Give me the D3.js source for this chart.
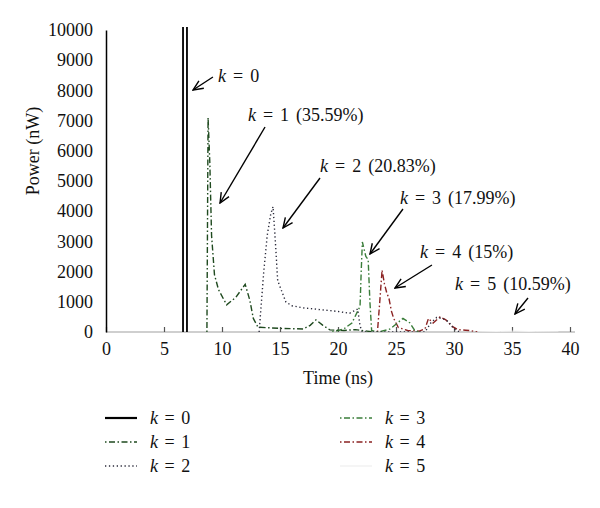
<!DOCTYPE html>
<html>
<head>
    <meta charset="utf-8">
    <title>Power vs time</title>
    <script src="https://cdn.jsdelivr.net/npm/d3@7"></script>
    <style>
        body { margin: 0; background: #fff; }
        text { font-family: "Liberation Serif", "DejaVu Serif", serif; fill: #111; }
    </style>
</head>
<body>
<script>
    // series: [time (ns), power (nW)]
    const k0 = [[6.64, 0], [6.64, 12000], [6.98, 12000], [6.98, 0]];
    const k1 = [[8.7, 0], [8.8, 7100], [8.95, 5600], [9.1, 3200], [9.35, 1900], [9.7, 1400], [10.4, 900],
        [11.2, 1150], [12.0, 1580], [12.4, 1050], [12.7, 450], [13.1, 160], [15, 120], [17, 100],
        [17.6, 220], [18.1, 400], [18.7, 220], [19.3, 70], [20.5, 50], [21.5, 80], [22.5, 30], [23, 0]];
    const k2 = [[13.2, 0], [13.3, 500], [13.6, 2000], [13.9, 3200], [14.2, 3900], [14.4, 4150], [14.6, 3000],
        [14.8, 1700], [15.2, 1300], [15.5, 1000], [16, 870], [17, 800], [18, 760], [19, 720], [20, 680],
        [21, 620], [21.7, 760], [21.9, 200], [22.1, 0], [27.5, 0], [28, 300], [28.5, 480], [29, 450],
        [29.5, 350], [30, 100], [30.5, 0]];
    const k3 = [[19.5, 0], [20.5, 100], [21.2, 300], [21.9, 850], [22.0, 2000], [22.1, 2980], [22.4, 2500],
        [22.6, 2400], [22.75, 1000], [22.9, 50], [23.5, 0], [24.5, 100], [25.6, 450], [26.2, 300],
        [26.6, 60], [27, 0]];
    const k4 = [[23.4, 0], [23.6, 1000], [23.8, 2050], [24.0, 1600], [24.2, 1300], [24.4, 1100], [24.6, 700],
        [24.8, 450], [25.2, 150], [26, 50], [27, 30], [27.5, 100], [27.8, 450], [28.2, 300], [28.8, 500],
        [29.3, 400], [29.8, 200], [30.3, 80], [31, 60], [31.5, 40], [32, 0]];
    const k5 = [[32, 0], [34, 20], [35.3, 30], [37, 10], [39, 0]];

    const seriesNames = ['k = 0', 'k = 1', 'k = 2', 'k = 3', 'k = 4', 'k = 5'];
    const seriesData = [k0, k1, k2, k3, k4, k5];

    const xTicks = [0, 5, 10, 15, 20, 25, 30, 35, 40];
    const yTicks = [0, 1000, 2000, 3000, 4000, 5000, 6000, 7000, 8000, 9000, 10000];

    // annotation labels: text position and arrow (from, to) in data units
    const notes = [
        { k: '0', rest: '', at: [9.66, 8278], from: [9.22, 8444], to: [7.5, 8013] },
        { k: '1', rest: ' (35.59%)', at: [12.24, 6987], from: [13.71, 6788], to: [9.83, 4272] },
        { k: '2', rest: ' (20.83%)', at: [18.45, 5298], from: [18.45, 5099], to: [15.26, 3444] },
        { k: '3', rest: ' (17.99%)', at: [25.34, 4238], from: [25.6, 4073], to: [22.76, 2583] },
        { k: '4', rest: ' (15%)', at: [27.07, 2450], from: [28.1, 2219], to: [24.91, 1457] },
        { k: '5', rest: ' (10.59%)', at: [30.09, 1391], from: [36.38, 1126], to: [35.26, 596] }
    ];

    const styles = [
        { color: '#000', dash: null, width: 1.8 },
        { color: '#1f4a1f', dash: '1.5,2.5,6,2.5', width: 1.4 },
        { color: '#2a2a3a', dash: '1.3,2.6', width: 1.4 },
        { color: '#3a7d3a', dash: '1.5,2.5,6,2.5', width: 1.4 },
        { color: '#8b2222', dash: '1.5,2.5,6,2.5', width: 1.4 },
        { color: '#f2f2f2', dash: null, width: 1 }
    ];

    const width = 464;
    const height = 302;
    const margin = { top: 30, right: 30, bottom: 176, left: 106 };

    const root = d3.select('body')
        .append('svg')
        .attr('width', 600)
        .attr('height', 508);

    const svg = root.append('g')
        .attr('transform', `translate(${margin.left}, ${margin.top})`);

    const xScale = d3.scaleLinear().domain([0, 40]).range([0, width]);
    const yScale = d3.scaleLinear().domain([0, 10000]).range([height, 0]);

    svg.append('clipPath')
        .attr('id', 'plot-clip')
        .append('rect')
        .attr('x', 0)
        .attr('y', -3)
        .attr('width', width + 5)
        .attr('height', height + 3);

    // x axis: light gray line with small upward ticks
    const xAxis = svg.append('g')
        .attr('transform', `translate(0, ${height})`)
        .call(d3.axisBottom(xScale).tickValues(xTicks).tickSizeInner(-5).tickSizeOuter(0).tickPadding(10));
    xAxis.select('.domain').attr('stroke', '#cfcfcf').attr('stroke-width', 2)
        .attr('d', `M0,0H${width + 5}`);
    xAxis.selectAll('.tick line').attr('stroke', '#555').attr('stroke-width', 1.2);
    xAxis.selectAll('.tick text').style('font-size', '18px').attr('fill', '#111')
        .style('font-family', '"Liberation Serif", serif');

    // y axis
    const yAxis = svg.append('g')
        .call(d3.axisLeft(yScale).tickValues(yTicks).tickFormat(d3.format('d'))
            .tickSizeInner(0).tickSizeOuter(0).tickPadding(13));
    yAxis.select('.domain').attr('stroke', '#000').attr('stroke-width', 1.5);
    yAxis.selectAll('.tick text').style('font-size', '18px').attr('fill', '#111')
        .style('font-family', '"Liberation Serif", serif');

    // lines
    const line = d3.line()
        .x(d => xScale(d[0]))
        .y(d => yScale(d[1]));

    const plot = svg.append('g').attr('clip-path', 'url(#plot-clip)');
    const order = [5, 4, 3, 2, 1, 0];
    order.forEach(i => {
        plot.append('path')
            .datum(seriesData[i])
            .attr('fill', 'none')
            .attr('stroke', styles[i].color)
            .attr('stroke-width', styles[i].width)
            .attr('stroke-dasharray', styles[i].dash)
            .attr('d', line);
    });

    // arrow head
    root.append('defs').append('marker')
        .attr('id', 'arrow')
        .attr('viewBox', '0 0 12 12')
        .attr('refX', 11)
        .attr('refY', 6)
        .attr('markerWidth', 12)
        .attr('markerHeight', 12)
        .attr('markerUnits', 'userSpaceOnUse')
        .attr('orient', 'auto')
        .append('path')
        .attr('d', 'M1,1.5 L11,6 L1,10.5')
        .attr('fill', 'none')
        .attr('stroke', '#000')
        .attr('stroke-width', 1.4);

    notes.forEach(n => {
        svg.append('line')
            .attr('x1', xScale(n.from[0]))
            .attr('y1', yScale(n.from[1]))
            .attr('x2', xScale(n.to[0]))
            .attr('y2', yScale(n.to[1]))
            .attr('stroke', '#000')
            .attr('stroke-width', 1.4)
            .attr('marker-end', 'url(#arrow)');

        const t = svg.append('text')
            .attr('x', xScale(n.at[0]))
            .attr('y', yScale(n.at[1]))
            .style('font-size', '18px')
            .style('word-spacing', '2.5px');
        t.append('tspan').style('font-style', 'italic').text('k');
        t.append('tspan').text(' = ' + n.k + n.rest);
    });

    // axis labels
    svg.append('text')
        .attr('x', width / 2)
        .attr('y', height + 52)
        .attr('text-anchor', 'middle')
        .style('font-size', '18px')
        .text('Time (ns)');

    svg.append('text')
        .attr('transform', 'rotate(-90)')
        .attr('x', -(height / 2) + 30)
        .attr('y', -73)
        .attr('dy', '0.35em')
        .attr('text-anchor', 'middle')
        .style('font-size', '18px')
        .text('Power (nW)');

    // legend: two columns of three
    const legend = root.append('g');
    seriesNames.forEach((name, i) => {
        const col = Math.floor(i / 3);
        const row = i % 3;
        const gx = 105 + col * 235;
        const gy = 418 + row * 24;
        legend.append('line')
            .attr('x1', gx)
            .attr('x2', gx + 32)
            .attr('y1', gy)
            .attr('y2', gy)
            .attr('stroke', styles[i].color)
            .attr('stroke-width', i === 0 ? 2.2 : 1.5)
            .attr('stroke-dasharray', styles[i].dash);
        const t = legend.append('text')
            .attr('x', gx + 45)
            .attr('y', gy + 6)
            .style('font-size', '18px')
            .style('word-spacing', '2px');
        t.append('tspan').style('font-style', 'italic').text('k');
        t.append('tspan').text(name.slice(1));
    });
</script>
</body>
</html>
